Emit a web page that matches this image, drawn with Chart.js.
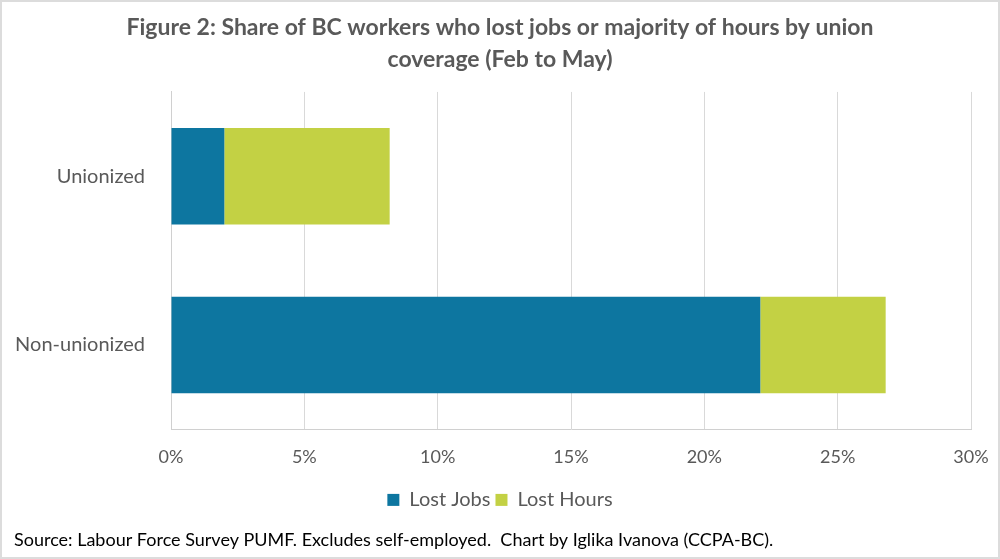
<!DOCTYPE html>
<html>
<head>
<meta charset="utf-8">
<script src="https://cdn.jsdelivr.net/npm/chart.js@4.4.1/dist/chart.umd.min.js"></script>
<style>
  html, body { margin: 0; padding: 0; background: #fff; }
  #wrap { width: 1000px; height: 559px; box-sizing: border-box; border: 2px solid #dcdcdc; position: relative; }
</style>
</head>
<body>
<div id="wrap"><canvas id="myChart"></canvas></div>
<script>
// Dados (percentual de trabalhadores)
const categorias = ['Unionized', 'Non-unionized'];
const lostJobs = [2.0, 22.1];
const lostHours = [6.2, 4.7];
const ticksX = [0, 5, 10, 15, 20, 25, 30];

const cinza = '#595959';

const ctx = document.getElementById('myChart').getContext('2d');
const myChart = new Chart(ctx, {
    type: 'bar',
    data: {
        labels: categorias,
        datasets: [{
            label: 'Lost Jobs',
            data: lostJobs,
            backgroundColor: '#0d76a0'
        }, {
            label: 'Lost Hours',
            data: lostHours,
            backgroundColor: '#c3d144'
        }]
    },
    options: {
        indexAxis: 'y',
        responsive: true,
        maintainAspectRatio: false,
        animation: false,
        categoryPercentage: 0.572,
        barPercentage: 1,
        layout: {
            padding: { top: 0, right: 12, bottom: 0, left: 12 }
        },
        plugins: {
            title: {
                display: true,
                text: ['Figure 2: Share of BC workers who lost jobs or majority of hours by union', 'coverage (Feb to May)'],
                color: cinza,
                font: { family: 'Lato', size: 23, weight: 'bold', lineHeight: 1.39 },
                padding: { top: 10, bottom: 16 }
            },
            subtitle: {
                display: true,
                position: 'bottom',
                align: 'start',
                text: 'Source: Labour Force Survey PUMF. Excludes self-employed.  Chart by Iglika Ivanova (CCPA-BC).',
                color: '#000',
                font: { family: 'Lato', size: 18, lineHeight: 1.2 },
                padding: { top: 9, bottom: 6.5 }
            },
            legend: {
                position: 'bottom',
                labels: {
                    color: cinza,
                    font: { family: 'Lato', size: 20 },
                    boxWidth: 12,
                    boxHeight: 12,
                    padding: 5
                }
            },
            tooltip: { enabled: false }
        },
        scales: {
            x: {
                stacked: true,
                min: 0,
                max: 30,
                afterBuildTicks: (s) => { s.ticks = ticksX.map(v => ({ value: v })); },
                // espaço à direita para o rótulo 30%
                afterFit: (s) => { s.paddingRight = 27; },
                ticks: {
                    color: cinza,
                    font: { family: 'Lato', size: 18 },
                    padding: 17,
                    callback: (v) => v + '%'
                },
                grid: { color: '#d9d9d9', drawTicks: false },
                border: { display: true, color: '#d0d0d0' }
            },
            y: {
                stacked: true,
                afterFit: (s) => { s.width = 157; },
                ticks: {
                    color: cinza,
                    font: { family: 'Lato', size: 20 },
                    padding: 26
                },
                grid: { display: false, drawTicks: false },
                border: { display: true, color: '#d0d0d0' }
            }
        }
    }
});
</script>
</body>
</html>
